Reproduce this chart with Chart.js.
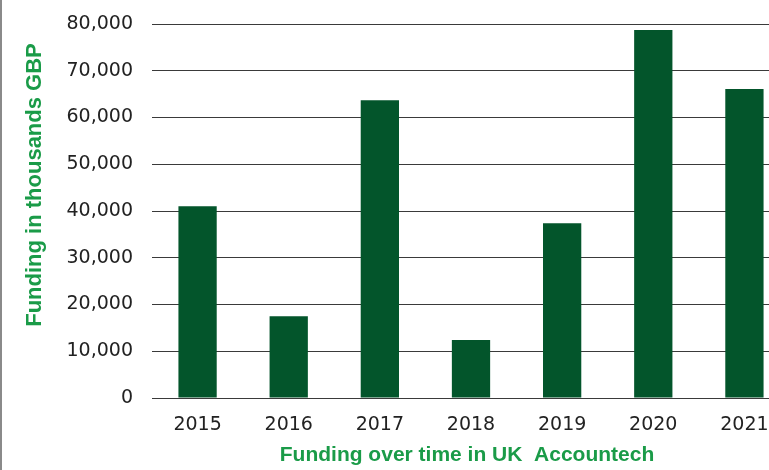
<!DOCTYPE html>
<html>
<head>
<meta charset="utf-8">
<script src="https://cdn.jsdelivr.net/npm/chart.js@4/dist/chart.umd.min.js"></script>
<style>
  html, body { margin: 0; padding: 0; background: #fff; overflow: hidden; }
  #frame { position: relative; width: 769px; height: 470px; overflow: hidden; border-left: 2px solid #8a8a8a; box-sizing: border-box; }
  #wrap { position: absolute; left: -2px; top: 0; width: 790px; height: 470px; }
</style>
</head>
<body>
<div id="frame">
  <div id="wrap"><canvas id="chartFunding"></canvas></div>
</div>
<script>
  // funding per year, thousands GBP
  var years = ["2015", "2016", "2017", "2018", "2019", "2020", "2021"];
  var funding = [41000, 17500, 63700, 12400, 37400, 78700, 66100];
  var yTicks = [0, 10000, 20000, 30000, 40000, 50000, 60000, 70000, 80000];

  var titleGreen = "#1a9b48";
  var barGreen = "#03552b";

  // axis titles drawn by hand so they sit where the original has them
  var axisTitles = {
    id: "axisTitles",
    afterDraw: function (chart) {
      var ctx = chart.ctx;
      var area = chart.chartArea;
      ctx.save();
      ctx.fillStyle = titleGreen;
      ctx.textAlign = "center";
      ctx.textBaseline = "middle";
      ctx.font = "bold 21px 'Liberation Sans', Arial, sans-serif";
      ctx.fillText("Funding over time in UK  Accountech", (area.left + area.right) / 2 - 4, 455);
      ctx.font = "bold 22px 'Liberation Sans', Arial, sans-serif";
      ctx.translate(35, 185);
      ctx.rotate(-Math.PI / 2);
      ctx.fillText("Funding in thousands GBP", 0, 0);
      ctx.restore();
    }
  };

  var ctx1 = document.getElementById("chartFunding").getContext("2d");
  new Chart(ctx1, {
    type: "bar",
    data: {
      labels: years,
      datasets: [{
        label: "Funding",
        data: funding,
        backgroundColor: barGreen,
        borderWidth: 0,
        barPercentage: 0.42,
        categoryPercentage: 1.0
      }]
    },
    options: {
      responsive: true,
      maintainAspectRatio: false,
      animation: false,
      layout: { padding: { top: 24, right: 0, bottom: 0, left: 0 } },
      plugins: {
        legend: { display: false },
        tooltip: { enabled: false }
      },
      scales: {
        x: {
          grid: { display: false, drawTicks: false },
          border: { display: false },
          afterFit: function (scale) { scale.height = 72; },
          ticks: {
            color: "#222",
            padding: 16,
            maxRotation: 0,
            font: { size: 19, family: "'DejaVu Sans', sans-serif" }
          }
        },
        y: {
          min: 0,
          max: 80000,
          afterFit: function (scale) {
            scale.width = 152;
            scale.paddingTop = 0;
            scale.paddingBottom = 0;
          },
          afterBuildTicks: function (scale) {
            scale.ticks = yTicks.map(function (v) { return { value: v }; });
          },
          grid: { color: "#3a3a3a", lineWidth: 1, drawTicks: false },
          border: { display: false },
          ticks: {
            color: "#222",
            padding: 19,
            font: { size: 19, family: "'DejaVu Sans', sans-serif" },
            callback: function (v) { return v.toLocaleString("en-US"); }
          }
        }
      }
    },
    plugins: [axisTitles]
  });
</script>
</body>
</html>
